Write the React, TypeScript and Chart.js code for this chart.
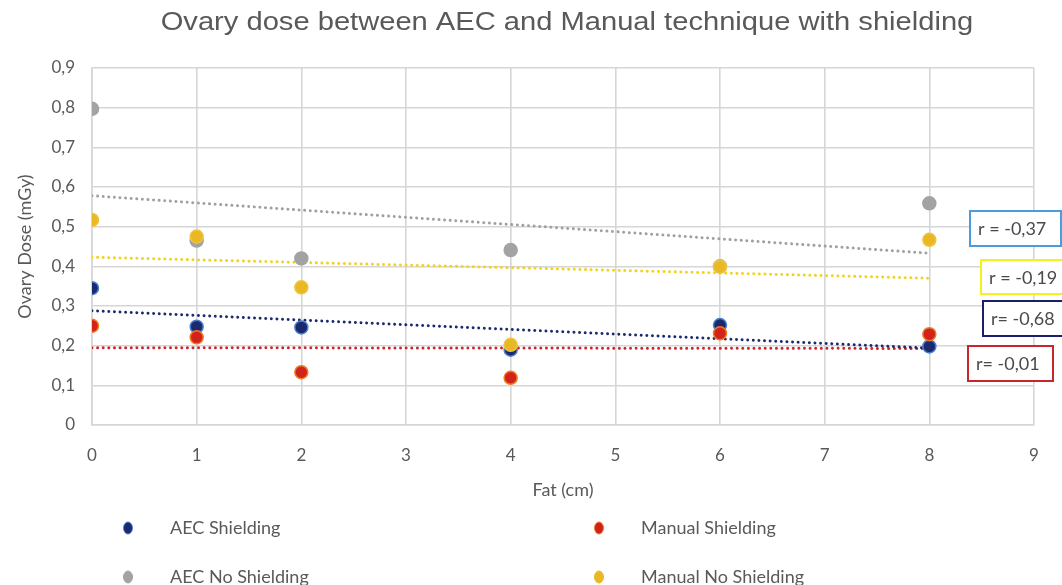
import React, { useEffect, useRef } from "react";
import { Chart, registerables } from "chart.js";

Chart.register(...registerables);

const titleText = "Ovary dose between AEC and Manual technique with shielding";
const xTitle = "Fat (cm)";
const yTitle = "Ovary Dose (mGy)";

const fatCm = [0, 1, 2, 4, 6, 8];
const aecShielding = [0.345, 0.248, 0.246, 0.19, 0.252, 0.198];
const aecNoShielding = [0.797, 0.465, 0.42, 0.441, 0.4, 0.559];
const manualShielding = [0.25, 0.221, 0.133, 0.119, 0.231, 0.229];
const manualNoShielding = [0.517, 0.475, 0.347, 0.202, 0.399, 0.467];

const trendX = [0, 8];
const aecShieldingTrend = [0.288, 0.194];
const aecNoShieldingTrend = [0.578, 0.433];
const manualShieldingTrend = [0.195, 0.193];
const manualNoShieldingTrend = [0.423, 0.37];

const xTickLabels = ["0", "1", "2", "3", "4", "5", "6", "7", "8", "9"];
const yTickLabels = ["0", "0,1", "0,2", "0,3", "0,4", "0,5", "0,6", "0,7", "0,8", "0,9"];

const legendNames = ["AEC Shielding", "Manual Shielding", "AEC No Shielding", "Manual No Shielding"];
const rLabels = ["r = -0,37", "r = -0,19", "r= -0,68", "r= -0,01"];

const C = {
  blue: "#1B2A6E",
  blueRing: "#4D7FD0",
  gray: "#A3A3A3",
  red: "#D2231B",
  redRing: "#EE7A22",
  yellow: "#E9B824",
  yellowLine: "#F2D21A",
  text: "#595959",
  grid: "#D6D6D6",
};

const pts = (ys: number[]) => fatCm.map((x, i) => ({ x, y: ys[i] }));
const tr = (ys: number[]) => trendX.map((x, i) => ({ x, y: ys[i] }));

const LEGEND_FONT = '18px Lato, "Open Sans", sans-serif';

const overlay = {
  id: "overlay",
  afterDraw(chart: any) {
    const ctx = chart.ctx as CanvasRenderingContext2D;
    const ca = chart.chartArea;
    ctx.save();
    ctx.fillStyle = C.text;
    ctx.textAlign = "center";
    ctx.textBaseline = "middle";
    ctx.font = '26px "Liberation Sans", Arial, sans-serif';
    ctx.save();
    ctx.translate(567, 23);
    ctx.scale(1.12, 1);
    ctx.fillText(titleText, 0, 0);
    ctx.restore();

    ctx.font = '18px Lato, "Open Sans", sans-serif';
    ctx.fillText(xTitle, (ca.left + ca.right) / 2, 490);
    ctx.save();
    ctx.translate(25, (ca.top + ca.bottom) / 2);
    ctx.rotate(-Math.PI / 2);
    ctx.fillText(yTitle, 0, 0);
    ctx.restore();

    // legend
    const legendColors = [C.blue, C.red, C.gray, C.yellow];
    const legendRings = [C.blueRing, C.redRing, C.gray, C.yellow];
    const pos = [
      [128, 528],
      [599, 528],
      [128, 577],
      [599, 577],
    ];
    ctx.font = LEGEND_FONT;
    ctx.textAlign = "left";
    legendNames.forEach((name, i) => {
      const [mx, my] = pos[i];
      ctx.beginPath();
      ctx.ellipse(mx, my, 4.5, 6, 0, 0, Math.PI * 2);
      ctx.fillStyle = legendColors[i];
      ctx.fill();
      ctx.lineWidth = 1;
      ctx.strokeStyle = legendRings[i];
      ctx.stroke();
      ctx.fillStyle = C.text;
      ctx.fillText(name, mx + 42, my);
    });

    // r boxes
    const boxes = [
      { x: 970, y: 211, w: 91, h: 35, c: "#4A9BE0" },
      { x: 981, y: 260, w: 90, h: 34, c: "#F4F21C" },
      { x: 983, y: 301, w: 88, h: 35, c: "#1B1F6B" },
      { x: 968, y: 346, w: 85, h: 35, c: "#C8262A" },
    ];
    ctx.font = '18px Lato, "Open Sans", sans-serif';
    boxes.forEach((b, i) => {
      ctx.fillStyle = "#ffffff";
      ctx.fillRect(b.x, b.y, b.w, b.h);
      ctx.lineWidth = 2;
      ctx.strokeStyle = b.c;
      ctx.strokeRect(b.x, b.y, b.w, b.h);
      ctx.fillStyle = "#4a4a4a";
      ctx.textAlign = "left";
      ctx.fillText(rLabels[i], b.x + 8, b.y + b.h / 2 + 1);
    });
    ctx.restore();
  },
};

export default function App() {
  const ref = useRef<HTMLCanvasElement | null>(null);
  useEffect(() => {
    document.body.style.margin = "0";
    const canvas = ref.current!;
    const dotted = (color: string) => ({
      type: "line" as const,
      showLine: true,
      borderColor: color,
      borderWidth: 3,
      borderDash: [0.01, 5.6],
      borderCapStyle: "round" as const,
      pointRadius: 0,
      fill: false,
    });
    const scatter = (color: string, ring: string) => ({
      type: "scatter" as const,
      backgroundColor: color,
      borderColor: ring,
      borderWidth: 1.5,
      pointRadius: 6.5,
      showLine: false,
    });
    const chart = new Chart(canvas, {
      type: "scatter",
      data: {
        datasets: [
          { label: legendNames[3], data: pts(manualNoShielding), ...scatter(C.yellow, "#F0C43A") },
          { label: legendNames[1], data: pts(manualShielding), ...scatter(C.red, C.redRing) },
          { label: legendNames[2], data: pts(aecNoShielding), ...scatter(C.gray, C.gray) },
          { label: legendNames[0], data: pts(aecShielding), ...scatter(C.blue, C.blueRing) },
          { label: "t1", data: tr(aecNoShieldingTrend), ...dotted("#A0A0A0") },
          { label: "t2", data: tr(manualNoShieldingTrend), ...dotted(C.yellowLine) },
          { label: "t3", data: tr(aecShieldingTrend), ...dotted("#1B2A6E") },
          { label: "t4", data: tr(manualShieldingTrend), ...dotted("#D0232A") },
        ] as any,
      },
      options: {
        responsive: false,
        animation: false,
        layout: { padding: { top: 68, right: 28, left: 0, bottom: 0 } },
        plugins: { legend: { display: false }, title: { display: false }, tooltip: { enabled: false } },
        scales: {
          x: {
            type: "linear",
            min: 0,
            max: 9,
            afterFit: (s: any) => {
              s.height = 160;
            },
            ticks: {
              stepSize: 1,
              padding: 20,
              color: C.text,
              font: { family: 'Lato, "Open Sans", sans-serif', size: 17 },
              callback: (_v: any, i: number) => xTickLabels[i],
            },
            grid: { color: C.grid, lineWidth: 1.6, drawTicks: false },
            border: { color: C.grid, width: 1.6 },
          },
          y: {
            type: "linear",
            min: 0,
            max: 0.9,
            afterFit: (s: any) => {
              s.width = 92;
            },
            ticks: {
              stepSize: 0.1,
              padding: 17,
              color: C.text,
              font: { family: 'Lato, "Open Sans", sans-serif', size: 17 },
              callback: (_v: any, i: number) => yTickLabels[i],
            },
            grid: { color: C.grid, lineWidth: 1.6, drawTicks: false },
            border: { color: C.grid, width: 1.6 },
          },
        },
      },
      plugins: [overlay],
    });
    return () => chart.destroy();
  }, []);
  return (
    <div style={{ position: "absolute", left: 0, top: 0, width: 1062, height: 585, background: "#fff" }}>
      <canvas ref={ref} width={1062} height={585} style={{ width: 1062, height: 585 }} />
    </div>
  );
}
